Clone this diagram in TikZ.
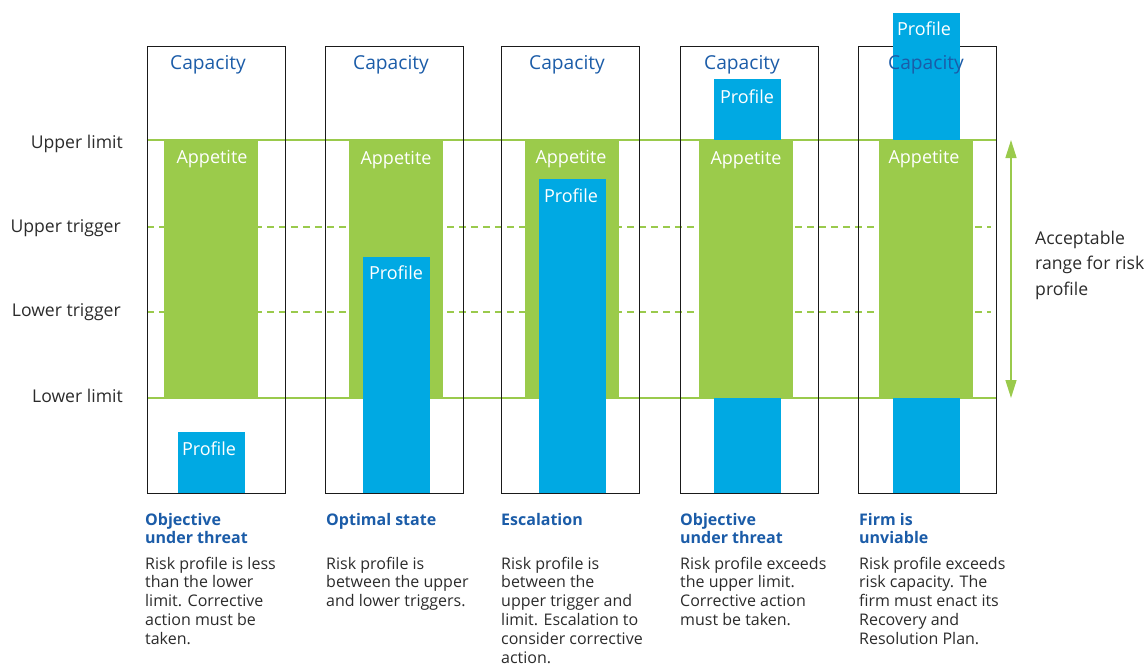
\documentclass[tikz,border=0pt]{standalone}
\usepackage{fontspec}
\setmainfont{Open Sans}
\usetikzlibrary{arrows.meta}
\definecolor{appgreen}{HTML}{9BCB4B}
\definecolor{linegreen}{HTML}{9ACA4C}
\definecolor{profblue}{HTML}{00A9E3}
\definecolor{capblue}{HTML}{1B5CA8}
\definecolor{titleblue}{HTML}{1B5CA8}
\definecolor{textgray}{HTML}{2B2B2B}
\definecolor{boxblack}{HTML}{1A1A1A}
\begin{document}
\begin{tikzpicture}[x=1pt,y=-1pt,
  capbox/.style={draw=boxblack, line width=1.1pt, inner sep=0pt, anchor=north west, minimum width=138pt, minimum height=447pt},
  appbox/.style={fill=appgreen, inner sep=0pt, anchor=north west, minimum width=94pt, minimum height=258pt},
  profbox/.style={fill=profblue, inner sep=0pt, anchor=north west, minimum width=67pt},
  caplabel/.style={text=capblue, font=\fontsize{19.2}{22}\selectfont, anchor=base, inner sep=0pt},
  whitelabel/.style={text=white, font=\fontsize{18}{21}\selectfont, anchor=base, inner sep=0pt},
  levellabel/.style={text=textgray, font=\fontsize{17.6}{21}\selectfont, anchor=base east, inner sep=0pt},
  sidelabel/.style={text=textgray, font=\fontsize{17.6}{25.5}\selectfont, anchor=base west, inner sep=0pt},
  titletext/.style={text=titleblue, font=\bfseries\fontsize{16}{18}\selectfont, anchor=base west, inner sep=0pt},
  bodytext/.style={text=textgray, font=\fontsize{16}{18.9}\selectfont, anchor=base west, inner sep=0pt},
  solidlevel/.style={draw=linegreen, line width=2pt},
  dashlevel/.style={draw=linegreen, line width=1.6pt, dash pattern=on 7pt off 5pt},
  rangearrow/.style={draw=linegreen, line width=1.5pt, {Triangle[width=11pt,length=18pt]}-{Triangle[width=11pt,length=18pt]}}
]
\useasboundingbox (0,0) rectangle (1145,666);

% level lines
\coordinate (ulA) at (147,140); \coordinate (ulB) at (996,140);
\coordinate (llA) at (147,398); \coordinate (llB) at (996,398);
\coordinate (utA) at (147,227); \coordinate (utB) at (991,227);
\coordinate (ltA) at (147,312); \coordinate (ltB) at (991,312);
\draw[solidlevel] (ulA) -- (ulB);
\draw[solidlevel] (llA) -- (llB);
\draw[dashlevel] (utA) -- (utB);
\draw[dashlevel] (ltA) -- (ltB);

% capacity boxes
\node[capbox] (cap1) at (147,46) {};
\node[capbox] (cap2) at (325,46) {};
\node[capbox] (cap3) at (501,46) {};
\node[capbox] (cap4) at (680,46) {};
\node[capbox] (cap5) at (858,46) {};

% column 1
\node[appbox] (app1) at (164,140) {};
\node[whitelabel] (appt1) at (212,163.5) {Appetite};
\node[profbox, minimum height=61pt] (prof1) at (178,432) {};
\node[whitelabel] (proft1) at (209,455.5) {Profile};

% column 2
\node[appbox] (app2) at (349,140) {};
\node[whitelabel] (appt2) at (396,164.5) {Appetite};
\node[profbox, minimum height=236pt] (prof2) at (363,257) {};
\node[whitelabel] (proft2) at (396,279.5) {Profile};

% column 3
\node[appbox] (app3) at (525,140) {};
\node[whitelabel] (appt3) at (571,163.5) {Appetite};
\node[profbox, minimum height=314pt] (prof3) at (539,179) {};
\node[whitelabel] (proft3) at (571,202.5) {Profile};

% column 4
\node[profbox, minimum height=414pt] (prof4) at (714,79) {};
\node[whitelabel] (proft4) at (747,103.5) {Profile};
\node[appbox] (app4) at (699,140) {};
\node[whitelabel] (appt4) at (746,164.5) {Appetite};

% column 5
\node[profbox, minimum height=480pt] (prof5) at (893,13) {};
\node[whitelabel] (proft5) at (924,35.5) {Profile};
\node[appbox] (app5) at (879,140) {};
\node[whitelabel] (appt5) at (924,163.5) {Appetite};

% capacity labels
\node[caplabel] (capt1) at (208,70) {Capacity};
\node[caplabel] (capt2) at (391,70) {Capacity};
\node[caplabel] (capt3) at (567,70) {Capacity};
\node[caplabel] (capt4) at (742,70) {Capacity};
\node[caplabel] (capt5) at (926,70) {Capacity};

% level labels
\node[levellabel] (lv1) at (123,148.5) {Upper limit};
\node[levellabel] (lv2) at (121,232.5) {Upper trigger};
\node[levellabel] (lv3) at (121,316.5) {Lower trigger};
\node[levellabel] (lv4) at (123,402.5) {Lower limit};

% acceptable range arrow
\coordinate (arrtop) at (1011,140);
\coordinate (arrbot) at (1011,398);
\draw[rangearrow] (arrtop) -- (arrbot);
\node[sidelabel] (range) at (1035,244) {\parbox[t]{110pt}{\raggedright Acceptable\\range for risk\\profile}};

% captions
\node[titletext] (tt1) at (145,525) {\parbox[t]{150pt}{\raggedright Objective\\under threat}};
\node[titletext] (tt2) at (326,525) {\parbox[t]{150pt}{\raggedright Optimal state}};
\node[titletext] (tt3) at (501,525) {\parbox[t]{150pt}{\raggedright Escalation}};
\node[titletext] (tt4) at (680,525) {\parbox[t]{150pt}{\raggedright Objective\\under threat}};
\node[titletext] (tt5) at (859,525) {\parbox[t]{150pt}{\raggedright Firm is\\unviable}};

\node[bodytext] (bd1) at (145,569) {\parbox[t]{170pt}{\raggedright Risk profile is less\\than the lower\\limit. Corrective\\action must be\\taken.}};
\node[bodytext] (bd2) at (326,569) {\parbox[t]{170pt}{\raggedright Risk profile is\\between the upper\\and lower triggers.}};
\node[bodytext] (bd3) at (501,569) {\parbox[t]{170pt}{\raggedright Risk profile is\\between the\\upper trigger and\\limit. Escalation to\\consider corrective\\action.}};
\node[bodytext] (bd4) at (680,569) {\parbox[t]{170pt}{\raggedright Risk profile exceeds\\the upper limit.\\Corrective action\\must be taken.}};
\node[bodytext] (bd5) at (859,569) {\parbox[t]{170pt}{\raggedright Risk profile exceeds\\risk capacity. The\\firm must enact its\\Recovery and\\Resolution Plan.}};
\end{tikzpicture}
\end{document}
